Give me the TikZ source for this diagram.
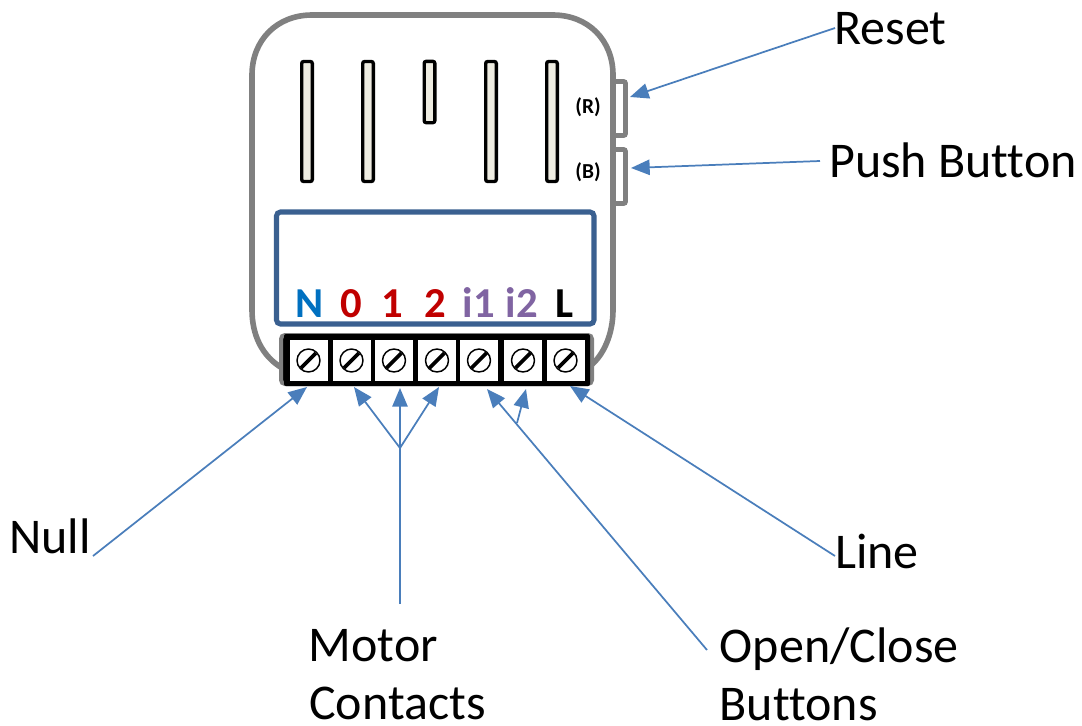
\documentclass[tikz,border=0pt]{standalone}
\usepackage{fontspec}
\setmainfont[Ligatures=NoCommon]{Carlito}
\usetikzlibrary{arrows.meta,calc}
\definecolor{cgray}{HTML}{808080}
\definecolor{cbox}{HTML}{3A6090}
\definecolor{carrow}{HTML}{4A7EBB}
\definecolor{cslot}{HTML}{EEECE1}
\definecolor{cblue}{HTML}{0070C0}
\definecolor{cred}{HTML}{C00000}
\definecolor{cpurple}{HTML}{8064A2}
\tikzset{
  x=0.75pt,y=-0.75pt,
  shell/.style={draw=cgray,line width=4.2pt,line join=round},
  btn/.style={draw=cgray,line width=3.6pt,fill=white,rounded corners=1.5pt},
  slot/.style={draw=black,line width=2.5pt,fill=cslot,rounded corners=1.5pt},
  term/.style={draw=none,fill=white,minimum width=28.5pt,minimum height=30.5pt,inner sep=0pt,outer sep=0pt},
  lbl/.style={anchor=base west,inner sep=0pt,font=\fontsize{37.5}{37.5}\selectfont},
  pin/.style={anchor=base,inner sep=0pt,font=\fontsize{32}{32}\selectfont\bfseries},
  tag/.style={inner sep=0pt,text=black,font=\fontsize{16}{16}\selectfont\bfseries},
  link/.style={draw=carrow,line width=1.3pt},
  tip/.style={link,-{Triangle[length=14pt,width=11.5pt,fill=carrow]}},
}
\newcommand{\screw}[1]{%
  \draw[black,line width=1.1pt,fill=white] (#1) circle (8.6pt);
  \draw[black,line width=2.8pt] ($(#1)+(-7.5,7.5)$) -- ($(#1)+(7.5,-7.5)$);
}
\begin{document}
\begin{tikzpicture}
\useasboundingbox (0,0) rectangle (1082,725);
% side buttons
\draw[btn] (613,81.5) -- (625.5,81.5) -- (625.5,135.5) -- (613,135.5);
\draw[btn] (613,149.5) -- (625.5,149.5) -- (625.5,203.5) -- (613,203.5);
% shell
\draw[shell,fill=white] (282,368) .. controls (262,356) and (252,335) .. (252,310) -- (252,75)
  .. controls (252,40) and (277,15) .. (312,15) -- (553,15)
  .. controls (588,15) and (613,40) .. (613,75) -- (613,310)
  .. controls (613,335) and (603,356) .. (590,366);
% slots
\node[slot,minimum width=8pt,minimum height=90pt,inner sep=0pt] (s1) at (307,121.5) {};
\node[slot,minimum width=8pt,minimum height=90pt,inner sep=0pt] (s2) at (368,121.5) {};
\node[slot,minimum width=8pt,minimum height=46pt,inner sep=0pt] (s3) at (429.5,92) {};
\node[slot,minimum width=8pt,minimum height=90pt,inner sep=0pt] (s4) at (491,121.5) {};
\node[slot,minimum width=8pt,minimum height=90pt,inner sep=0pt] (s5) at (552,121.5) {};
\node[tag] (tr) at (588,107) {(R)};
\node[tag] (tb) at (588,172) {(B)};
% label box
\draw[draw=cbox,line width=3.8pt,rounded corners=3pt] (276.5,212) rectangle (594,324);
\node[pin,text=cblue] (pn) at (309.5,317) {N};
\node[pin,text=cred] (p0) at (351,317) {0};
\node[pin,text=cred] (p1) at (392,317) {1};
\node[pin,text=cred] (p2) at (435.5,317) {2};
\node[pin,text=cpurple] (pi1) at (479,317) {i1};
\node[pin,text=cpurple] (pi2) at (522,317) {i2};
\node[pin,text=black] (pl) at (565,317) {L};
% terminal strip
\draw[draw=cgray,line width=3pt,fill=black,rounded corners=3pt] (281,335) rectangle (592,384);
\fill[black,rounded corners=1.5pt] (284,334) rectangle (590,386);
\node[term] (t1) at (308.5,360.5) {};
\node[term] (t2) at (351.5,360.5) {};
\node[term] (t3) at (394,360.5) {};
\node[term] (t4) at (437,360.5) {};
\node[term] (t5) at (479,360.5) {};
\node[term] (t6) at (523,360.5) {};
\node[term] (t7) at (565.5,360.5) {};
\screw{t1.center}\screw{t2.center}\screw{t3.center}\screw{t4.center}\screw{t5.center}\screw{t6.center}\screw{t7.center}
% labels
\node[lbl] (reset) at (834,44) {Reset};
\node[lbl] (push) at (829,177) {Push Button};
\node[lbl] (null) at (9,553) {Null};
\node[lbl] (line) at (835,568) {Line};
\node[lbl] (motor) at (308.5,661) {Motor};
\node[lbl] (contacts) at (309,719) {Contacts};
\node[lbl] (open) at (719.5,662) {Open/Close};
\node[lbl] (buttons) at (719.5,720) {Buttons};
% connector ends
\coordinate (areset) at (835,28);
\coordinate (ereset) at (630,97);
\coordinate (apush) at (820,161);
\coordinate (epush) at (631,168);
\coordinate (anull) at (93,556);
\coordinate (enull) at (307,387);
\coordinate (amotor) at (400,604);
\coordinate (jmotor) at (400,448);
\coordinate (em0) at (354,387);
\coordinate (em1) at (400,388);
\coordinate (em2) at (439,387);
\coordinate (aopen) at (707,650);
\coordinate (eo1) at (487,389);
\coordinate (jopen) at (517,423);
\coordinate (eo2) at (526,389);
\coordinate (aline) at (835,556);
\coordinate (eline) at (570,386);
\draw[tip] (areset) -- (ereset);
\draw[tip] (apush) -- (epush);
\draw[tip] (anull) -- (enull);
\draw[tip] (amotor) -- (em1);
\draw[tip] (jmotor) -- (em0);
\draw[tip] (jmotor) -- (em2);
\draw[tip] (aopen) -- (eo1);
\draw[tip] (jopen) -- (eo2);
\draw[tip] (aline) -- (eline);
\end{tikzpicture}
\end{document}
